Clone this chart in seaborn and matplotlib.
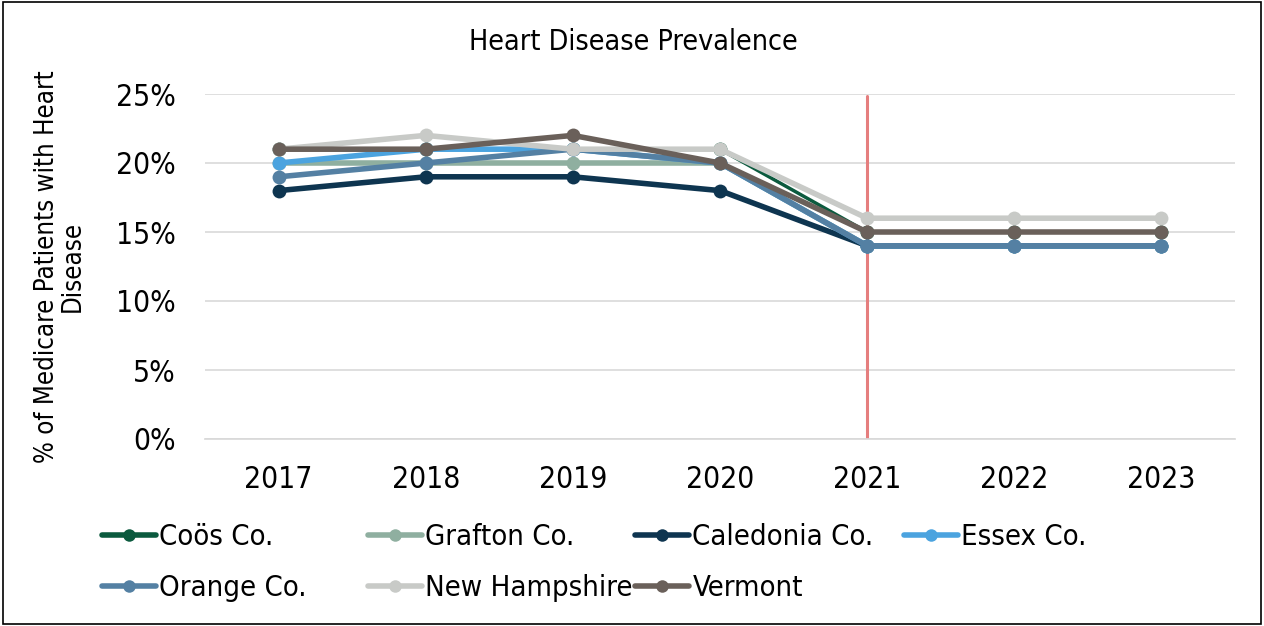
import matplotlib
matplotlib.use("Agg")
import matplotlib.pyplot as plt
import numpy as np
import pandas as pd
import seaborn as sns
from matplotlib.patches import Rectangle
from matplotlib.ticker import PercentFormatter

years = [2017, 2018, 2019, 2020, 2021, 2022, 2023]

coos = [21, 21, 21, 21, 15, 15, 15]
grafton = [20, 20, 20, 20, 14, 14, 14]
caledonia = [18, 19, 19, 18, 14, 14, 14]
essex = [20, 21, 21, 20, 14, 14, 14]
orange = [19, 20, 21, 20, 14, 14, 14]
new_hampshire = [21, 22, 21, 21, 16, 16, 16]
vermont = [21, 21, 22, 20, 15, 15, 15]

series_names = ["Coös Co.", "Grafton Co.", "Caledonia Co.", "Essex Co.",
                "Orange Co.", "New Hampshire", "Vermont"]
series_values = [coos, grafton, caledonia, essex, orange, new_hampshire, vermont]
colors = ["#0B5A3E", "#8FAFA0", "#0E3550", "#4BA3DF", "#5480A3", "#C8CAC7", "#6A605A"]


def main():
    sns.set_theme()
    sns.set_style("white")
    plt.rcParams["font.family"] = ["DejaVu Sans"]
    plt.rcParams["font.stretch"] = "condensed"
    plt.rcParams["text.color"] = "black"

    rows = []
    for name, vals in zip(series_names, series_values):
        for y, v in zip(years, vals):
            rows.append((y, v, name))
    df = pd.DataFrame(rows, columns=["year", "value", "series"])

    fig = plt.figure(figsize=(12.64, 6.26), dpi=100)
    ax = fig.add_axes([205 / 1264, 1 - 439 / 626, 1030 / 1264, 345 / 626])

    ax.axvline(2021, ymin=0, ymax=0.995, color="#E57E7E", lw=2.2, zorder=1)

    sns.lineplot(data=df, x="year", y="value", hue="series", hue_order=series_names,
                 palette=colors, marker="o", markersize=10, markeredgewidth=0,
                 linewidth=4, ax=ax, legend=False, zorder=3)
    # Coös line is thinner in the original
    ax.lines[1].set_linewidth(2.5)

    ax.set_xlim(2016.5, 2023.5)
    ax.set_ylim(0, 25)
    ax.set_yticks([0, 5, 10, 15, 20, 25])
    ax.set_xticks(years)
    ax.yaxis.set_major_formatter(PercentFormatter(decimals=0))
    ax.grid(axis="y", color="#D9D9D9", lw=1.2)
    ax.set_axisbelow(True)
    for s in ["top", "right", "left"]:
        ax.spines[s].set_visible(False)
    ax.spines["bottom"].set_color("#D9D9D9")
    ax.tick_params(axis="both", labelsize=21.5, length=0, labelcolor="black")
    ax.tick_params(axis="x", pad=19)
    ax.tick_params(axis="y", pad=21)
    ax.set_xlabel("")
    ax.set_ylabel("% of Medicare Patients with Heart\nDisease", fontsize=18.5,
                  labelpad=22, linespacing=0.95, color="black")
    fig.text(633 / 1264, 1 - 42 / 626, "Heart Disease Prevalence", ha="center",
             va="center", fontsize=20.5)

    # one legend per column, so that columns sit at even steps like the original
    col_x = [102, 368, 635, 904]
    for i, x0 in enumerate(col_x):
        idx = [j for j in (i, i + 4) if j < len(series_names)]
        handles = [plt.Line2D([], [], color=colors[j], lw=4, marker="o", markersize=9,
                              markeredgewidth=0) for j in idx]
        labels = [series_names[j] for j in idx]
        fig.legend(handles, labels, loc="upper left",
                   bbox_to_anchor=(x0 / 1264, 1 - 523 / 626), frameon=False, fontsize=21,
                   handlelength=1.85, handletextpad=0.12, labelspacing=0.78,
                   borderpad=0, borderaxespad=0)

    fig.patches.append(Rectangle((0.002, 0.003), 0.996, 0.994, transform=fig.transFigure,
                                 fill=False, edgecolor="black", lw=1.2))
    fig.savefig("out.png", dpi=100)


if __name__ == "__main__":
    main()
